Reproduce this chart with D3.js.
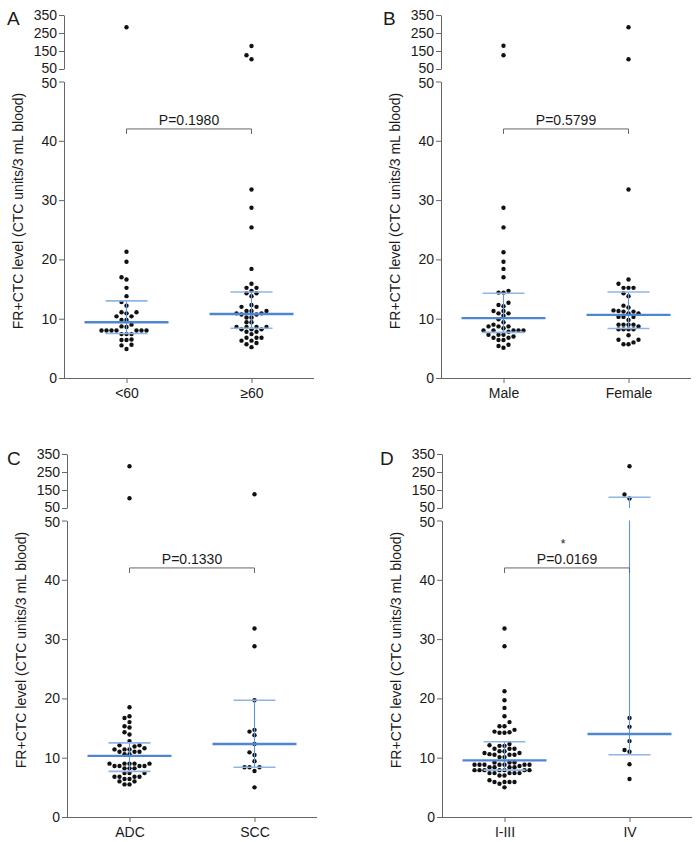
<!DOCTYPE html>
<html>
<head>
<meta charset="utf-8">
<script src="https://cdn.jsdelivr.net/npm/d3@7"></script>
<style>
  body { margin:0; background:#fff; }
  svg text { font-family: "Liberation Sans", Arial, Helvetica, sans-serif; fill:#1a1a1a; }
  .axis path, .axis line { stroke:#666; stroke-width:1; }
  .axis text { font-size:14px; fill:#1a1a1a; }
</style>
</head>
<body>
<div id="chart"></div>
<script>
// values (FR+CTC units / 3 mL blood)
var ageLow  = [282, 21.3, 19.6, 17.0, 16.6, 15.2, 13.8, 12.8, 12.2, 11.1, 11.1, 10.9, 10.4, 10.4, 9.8, 9.8, 9.0, 8.7, 8.6,
               8.0, 8.0, 8.0, 8.0, 8.0, 8.0, 8.0, 7.4, 7.4, 7.4, 6.5, 6.4, 6.4, 5.6, 5.5, 4.9];
var ageHigh = [178, 126, 104, 31.8, 28.7, 25.4, 18.4, 15.9, 15.2, 15.2, 14.7, 14.3, 14.3, 13.8, 12.3, 12.0, 12.0, 11.3, 11.3, 11.3,
               10.9, 10.9, 10.7, 10.7, 10.2, 10.2, 9.4, 9.4, 8.6, 8.6, 8.6, 8.6, 8.2, 8.2, 8.2, 7.8, 7.8, 7.4,
               6.8, 6.8, 6.8, 6.3, 6.3, 5.9, 5.7, 5.2];
var male    = [179, 126, 28.7, 25.4, 21.2, 19.6, 18.4, 17.0, 14.7, 14.4, 14.4, 12.7, 12.3, 12.1, 11.3, 11.3, 10.9, 10.9, 10.5,
               9.9, 9.4, 9.0, 8.7, 8.7, 8.7, 8.4, 8.0, 8.0, 8.0, 8.0, 8.0, 7.8, 7.3, 7.3, 7.3, 7.0, 6.8, 6.8, 6.4, 6.4,
               5.6, 5.4, 5.1];
var female  = [282, 104, 31.8, 16.6, 15.9, 15.2, 15.2, 15.2, 14.3, 13.8, 12.2, 11.9, 11.4, 11.3, 11.2, 11.2, 10.9, 10.9,
               10.3, 10.3, 10.3, 9.8, 9.0, 9.0, 9.0, 9.0, 8.7, 8.2, 8.2, 8.2, 8.2, 7.2, 6.45, 6.45, 6.0, 5.7, 5.7];
var adc     = [282, 104, 18.5, 17.0, 16.7, 16.0, 15.3, 15.1, 14.3, 13.9, 12.8, 12.1, 12.1, 11.9, 11.6, 11.4, 11.4, 11.4,
               11.0, 11.0, 11.0, 10.6, 10.6, 9.0, 9.0, 9.0, 9.0, 9.0, 8.6, 8.6, 8.6, 8.6, 8.2, 8.2, 8.2, 7.4, 7.4, 7.4,
               6.8, 6.8, 6.8, 6.8, 6.4, 6.4, 6.0, 6.0, 5.5, 5.5];
var scc     = [126, 31.8, 28.8, 19.7, 14.7, 14.4, 13.8, 12.3, 10.9, 10.45, 9.4, 8.4, 8.4, 8.4, 7.75, 5.0];
var stage13 = [31.8, 28.8, 21.2, 19.7, 18.4, 17.0, 16.0, 15.3, 15.3, 14.7, 14.4, 14.3, 14.2, 14.2, 12.3, 12.1, 12.0, 12.0,
               11.5, 11.5, 11.5, 11.1, 11.1, 10.8, 10.8, 10.6, 10.5, 10.5, 10.5, 10.1, 10.1, 9.2, 9.2, 9.2,
               8.8, 8.8, 8.8, 8.8, 8.8, 8.8, 8.8, 8.6, 8.4, 8.4, 8.4, 8.4, 7.9, 7.9, 7.9, 7.9, 7.9, 7.9, 7.9,
               7.4, 7.4, 7.4, 7.4, 7.4, 7.0, 7.0, 6.2, 5.9, 5.9, 5.9, 5.9, 5.6, 5.0];
var stage4  = [282, 125, 103, 16.7, 15.2, 12.8, 11.3, 11.0, 8.9, 6.4];

// median and interquartile range per group
var medians = [[9.4, 10.8], [10.1, 10.65], [10.3, 12.3], [9.55, 14.0]];
var q1s     = [[7.5, 8.4],  [7.7, 8.35],   [7.7, 8.4],   [7.9, 10.5]];
var q3s     = [[13.0, 14.5],[14.3, 14.5],  [12.5, 19.7], [12.7, 110]];

var panelLetters = ["A", "B", "C", "D"];
var categories = [["<60", "\u226560"], ["Male", "Female"], ["ADC", "SCC"], ["I-III", "IV"]];
var pValues = ["P=0.1980", "P=0.5799", "P=0.1330", "P=0.0169"];
var starred = [false, false, false, true];
var groups = [[ageLow, ageHigh], [male, female], [adc, scc], [stage13, stage4]];

var lowTicks = [0, 10, 20, 30, 40, 50];
var highTicks = [50, 150, 250, 350];
var yLabel = "FR+CTC level (CTC units/3 mL blood)";

var W = 700, H = 842;
var svg = d3.select("#chart").append("svg").attr("width", W).attr("height", H);

// where each panel's axes sit
var origins = [{x:64, y:15, lx:7, ly:25}, {x:441, y:15, lx:383, ly:25},
               {x:67, y:454, lx:7, ly:465}, {x:442, y:454, lx:380, ly:465}];
var plotW = 250;
var medCol = "#4f86d3", iqrCol = "#8fb5e6", stemCol = "#5f92da";

function beeswarm(vals, yOf, minD) {
  // place each dot at the nearest free slot to the centre line
  var placed = [];
  var sorted = vals.slice().sort(function(a, b) { return a - b; });
  sorted.forEach(function(v) {
    var y = yOf(v);
    var k = 0, dx = 0;
    while (true) {
      var cands = k == 0 ? [0] : [-k * 5, k * 5];
      var ok = null;
      for (var c = 0; c < cands.length; c++) {
        var hit = placed.some(function(p) {
          return Math.hypot(p.dx - cands[c], p.y - y) < minD;
        });
        if (!hit) { ok = cands[c]; break; }
      }
      if (ok !== null) { dx = ok; break; }
      k++;
    }
    placed.push({v:v, y:y, dx:dx});
  });
  return placed;
}

for (var pi = 0; pi < 4; pi++) {
  var o = origins[pi];
  var g = svg.append("g");

  var yLow = d3.scaleLinear().domain([0, 50]).range([o.y + 363, o.y + 66.5]);
  var yHigh = d3.scaleLinear().domain([50, 350]).range([o.y + 54, o.y]);
  var yOf = function(v) { return v > 50 ? yHigh(v) : yLow(v); };
  var x = d3.scalePoint().domain(categories[pi]).range([o.x, o.x + plotW]).padding(0.5);

  // axes (two segments for the broken axis)
  var la = g.append("g").attr("class", "axis").attr("transform", "translate(" + o.x + ",0)")
    .call(d3.axisLeft(yLow).tickValues(lowTicks).tickSize(5).tickSizeOuter(0).tickPadding(2));
  la.selectAll(".tick text").filter(function(d) { return d == 50; }).attr("dy", "0.42em");
  var ha = g.append("g").attr("class", "axis").attr("transform", "translate(" + o.x + ",0)")
    .call(d3.axisLeft(yHigh).tickValues(highTicks).tickSize(5).tickSizeOuter(0).tickPadding(2));
  ha.selectAll(".tick text").filter(function(d) { return d == 50; }).attr("dy", "0.25em");
  var xa = g.append("g").attr("class", "axis").attr("transform", "translate(0," + yLow(0) + ")")
    .call(d3.axisBottom(x).tickSize(5).tickSizeOuter(0).tickPadding(5));
  xa.select(".domain").attr("d", "M" + o.x + ",0.5H" + (o.x + plotW));
  g.selectAll(".axis text").style("font-size", "14px");

  // y label
  g.append("text")
    .attr("transform", "translate(" + (o.x - 46) + "," + (o.y + 196) + ") rotate(-90)")
    .attr("text-anchor", "middle")
    .attr("dy", "0.35em")
    .style("font-size", "14px")
    .text(yLabel);

  // panel letter
  g.append("text").attr("x", o.lx).attr("y", o.ly)
    .style("font-size", "19px").text(panelLetters[pi]);

  // dots
  for (var gi = 0; gi < 2; gi++) {
    var cx = x(categories[pi][gi]);
    var pts = beeswarm(groups[pi][gi], yOf, 4.6);
    g.selectAll(null).data(pts).enter().append("circle")
      .attr("cx", function(d) { return cx + d.dx; })
      .attr("cy", function(d) { return d.y; })
      .attr("r", 2.2)
      .attr("fill", "#111");

    // median and IQR
    var q1 = q1s[pi][gi], q3 = q3s[pi][gi], md = medians[pi][gi];
    if (q3 > 50) {
      g.append("line").attr("x1", cx).attr("x2", cx).attr("y1", yLow(q1)).attr("y2", yLow(50))
        .attr("stroke", stemCol).attr("stroke-width", 1.1);
      g.append("line").attr("x1", cx).attr("x2", cx).attr("y1", yHigh(50)).attr("y2", yHigh(q3))
        .attr("stroke", stemCol).attr("stroke-width", 1.1);
    } else {
      g.append("line").attr("x1", cx).attr("x2", cx).attr("y1", yLow(q1)).attr("y2", yLow(q3))
        .attr("stroke", stemCol).attr("stroke-width", 1.1);
    }
    [q1, q3].forEach(function(q) {
      g.append("line").attr("x1", cx - 21).attr("x2", cx + 21)
        .attr("y1", yOf(q)).attr("y2", yOf(q))
        .attr("stroke", iqrCol).attr("stroke-width", 1.6);
    });
    g.append("line").attr("x1", cx - 42).attr("x2", cx + 42)
      .attr("y1", yOf(md)).attr("y2", yOf(md))
      .attr("stroke", medCol).attr("stroke-width", 2.4);
  }

  // significance bracket
  var bx1 = x(categories[pi][0]), bx2 = x(categories[pi][1]), by = yLow(42);
  g.append("path")
    .attr("d", "M" + bx1 + "," + (by + 5) + "V" + by + "H" + bx2 + "V" + (by + 5))
    .attr("fill", "none").attr("stroke", "#666").attr("stroke-width", 1);
  g.append("text").attr("x", (bx1 + bx2) / 2).attr("y", by - 4)
    .attr("text-anchor", "middle").style("font-size", "14px").text(pValues[pi]);
  if (starred[pi]) {
    g.append("text").attr("x", (bx1 + bx2) / 2 - 4).attr("y", by - 20)
      .attr("text-anchor", "middle").style("font-size", "12px").text("*");
  }
}
</script>
</body>
</html>
